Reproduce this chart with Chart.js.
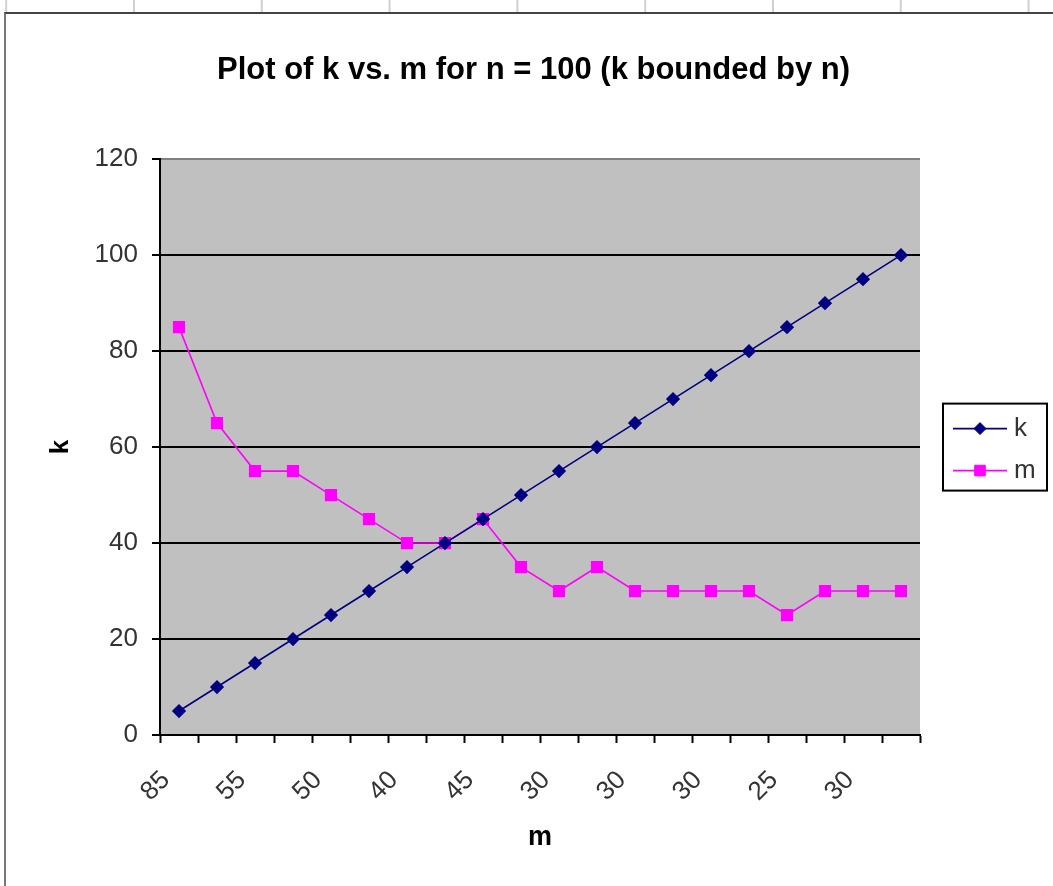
<!DOCTYPE html>
<html>
<head>
<meta charset="utf-8">
<script src="https://cdn.jsdelivr.net/npm/chart.js@4.4.0/dist/chart.umd.min.js"></script>
<style>
  body { margin: 0; background: #fff; }
  #sheet-top {
    position: absolute; left: 0; top: 0; width: 1053px; height: 12px;
    background: linear-gradient(to right, #d0d0d0 0, #d0d0d0 2px, transparent 2px) 133px 0 / 127.8px 12px repeat-x;
  }
  #frame {
    position: absolute; left: 4px; top: 12px; width: 1049px; height: 874px;
    border-top: 2px solid #444; border-left: 2px solid #777;
  }
  canvas { position: absolute; left: 0; top: 0; }
</style>
</head>
<body>
<div id="sheet-top"></div>
<div id="frame"></div>
<canvas id="chart" width="1053" height="886"></canvas>
<script>
// m values for each trial, also used as the category labels
const categoryLabels = ["85", "65", "55", "55", "50", "45", "40", "40", "45", "35",
                        "30", "35", "30", "30", "30", "30", "25", "30", "30", "30"];
const kValues = [5, 10, 15, 20, 25, 30, 35, 40, 45, 50,
                 55, 60, 65, 70, 75, 80, 85, 90, 95, 100];
const mValues = [85, 65, 55, 55, 50, 45, 40, 40, 45, 35,
                 30, 35, 30, 30, 30, 30, 25, 30, 30, 30];
const yTicks = [0, 20, 40, 60, 80, 100, 120];

const fontFamily = "'Liberation Sans', Arial, sans-serif";

// gray plot background
const plotBackground = {
  id: "plotBackground",
  beforeDraw(chart) {
    const { ctx, chartArea } = chart;
    ctx.save();
    ctx.fillStyle = "#c0c0c0";
    ctx.fillRect(chartArea.left, chartArea.top, chartArea.right - chartArea.left, chartArea.bottom - chartArea.top);
    ctx.restore();
  },
};

// boxed legend on the right, line + marker like excel
const boxLegend = {
  id: "boxLegend",
  afterDraw(chart) {
    const { ctx, chartArea } = chart;
    const w = 104, h = 87;
    const left = chartArea.right + 23;
    const top = (chartArea.top + chartArea.bottom) / 2 - h / 2;
    ctx.save();
    ctx.strokeStyle = "#000";
    ctx.lineWidth = 2;
    ctx.strokeRect(left, top, w, h);
    chart.data.datasets.forEach((ds, i) => {
      const y = top + 25 + i * 42;
      ctx.strokeStyle = ds.borderColor;
      ctx.lineWidth = ds.borderWidth;
      ctx.beginPath();
      ctx.moveTo(left + 10, y);
      ctx.lineTo(left + 64, y);
      ctx.stroke();
      ctx.fillStyle = ds.pointBackgroundColor;
      ctx.strokeStyle = ds.pointBorderColor;
      ctx.lineWidth = 1;
      Chart.helpers.drawPoint(ctx, { pointStyle: ds.pointStyle, radius: ds.pointRadius, rotation: 0, borderWidth: 1 }, left + 37, y);
      ctx.fillStyle = "#333";
      ctx.font = "26px " + fontFamily;
      ctx.textBaseline = "middle";
      ctx.textAlign = "left";
      ctx.fillText(ds.label, left + 71, y);
    });
    ctx.restore();
  },
};

new Chart(document.getElementById("chart").getContext("2d"), {
  type: "line",
  data: {
    labels: categoryLabels,
    datasets: [
      {
        label: "k",
        data: kValues,
        borderColor: "#000080",
        backgroundColor: "#000080",
        borderWidth: 1.6,
        pointStyle: "rectRot",
        pointRadius: 6,
        pointBackgroundColor: "#000080",
        pointBorderColor: "#000080",
        tension: 0,
      },
      {
        label: "m",
        data: mValues,
        borderColor: "#ff00ff",
        backgroundColor: "#ff00ff",
        borderWidth: 1.6,
        pointStyle: "rect",
        pointRadius: 7.5,
        pointBackgroundColor: "#ff00ff",
        pointBorderColor: "#ff00ff",
        tension: 0,
      },
    ],
  },
  options: {
    responsive: false,
    animation: false,
    devicePixelRatio: 1,
    layout: { padding: { left: 14, top: 0, right: 0, bottom: 0 } },
    plugins: {
      legend: { display: false },
      tooltip: { enabled: false },
      title: {
        display: true,
        text: "Plot of k vs. m for n = 100 (k bounded by n)",
        color: "#000",
        font: { family: fontFamily, size: 31, weight: "bold" },
        padding: { top: 52, bottom: 70 },
      },
    },
    scales: {
      x: {
        type: "category",
        offset: true,
        afterFit(scale) { scale.height = 151; },
        grid: {
          display: true,
          offset: true,
          drawOnChartArea: false,
          drawTicks: true,
          tickLength: 8,
          tickColor: "#000",
          tickWidth: 2,
        },
        border: { display: true, color: "#000", width: 2 },
        ticks: {
          autoSkip: false,
          minRotation: 45,
          maxRotation: 45,
          padding: 22,
          labelOffset: -13,
          color: "#333",
          font: { family: fontFamily, size: 26 },
          callback: (value, index) => (index % 2 === 0 ? categoryLabels[index] : ""),
        },
        title: {
          display: true,
          text: "m",
          color: "#000",
          font: { family: fontFamily, size: 27, weight: "bold" },
          padding: { top: 0, bottom: 32 },
        },
      },
      y: {
        min: yTicks[0],
        max: yTicks[yTicks.length - 1],
        afterFit(scale) { scale.width = 146; },
        afterBuildTicks(scale) { scale.ticks = yTicks.map((v) => ({ value: v })); },
        grid: {
          color: (c) => (c.tick && c.tick.value === 120 ? "#808080" : "#000"),
          lineWidth: 2,
          tickLength: 8,
          tickColor: "#000",
          tickWidth: 2,
        },
        border: { display: true, color: "#000", width: 2 },
        ticks: {
          padding: 14,
          color: "#333",
          font: { family: fontFamily, size: 26 },
        },
        title: {
          display: true,
          text: "k",
          color: "#000",
          font: { family: fontFamily, size: 26, weight: "bold" },
          padding: { top: 31, bottom: 0 },
        },
      },
      // empty axis that keeps room on the right for the legend box
      spacer: {
        type: "linear",
        position: "right",
        display: true,
        afterFit(scale) { scale.width = 133; },
        grid: { display: false, drawTicks: false },
        border: { display: false },
        ticks: { display: false },
      },
    },
  },
  plugins: [plotBackground, boxLegend],
});
</script>
</body>
</html>
